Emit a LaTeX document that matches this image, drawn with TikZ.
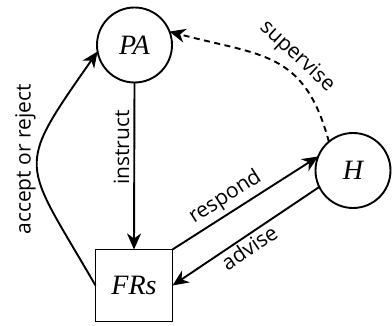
\documentclass[tikz,border=0pt]{standalone}
\usepackage{fontspec}
\setmainfont{Liberation Serif}
\setsansfont{Open Sans}
\usetikzlibrary{arrows.meta}
\tikzset{
  agent diagram/.style={
    draw=black, line width=1.9pt, x=1pt, y=1pt,
    >={Stealth[length=16pt,width=14pt,inset=5pt]},
    every node/.style={inner sep=0pt, outer sep=0pt}
  },
  agent circle/.style={draw, circle, minimum size=75pt,
    font=\fontsize{28}{32}\selectfont\itshape},
  agent box/.style={draw, rectangle, minimum width=77pt, minimum height=72pt,
    font=\fontsize{28}{32}\selectfont\itshape},
  flow label/.style={font=\sffamily\fontsize{21}{25}\selectfont, inner sep=2pt},
  flow dashed/.style={dash pattern=on 6pt off 4.5pt}
}
\begin{document}
\begin{tikzpicture}[agent diagram]
    \useasboundingbox (0,0) rectangle (392,326);
    \node[agent circle] (PA) at (134.5,281) {PA};
    \node[agent circle] (H) at (353,155.5) {H};
    \node[agent box] (FRs) at (134,40.5) {FRs};
    % PA -> FRs
    \draw[->] (PA.south) -- node[flow label,pos=0.39,rotate=90,anchor=south,inner sep=5pt] {instruct} (FRs.north);
    % FRs <-> H
    \draw[->] (FRs.north east) -- node[flow label,pos=0.42,sloped,above=3pt] {respond} (H.158);
    \draw[<-] (FRs.east) -- node[flow label,pos=0.48,sloped,below=1pt] {advise} (H.206);
    % back to PA
    \draw[->] (FRs.west) to[out=120,in=235,looseness=1.6]
      node[flow label,pos=0.54,rotate=90,anchor=south] {accept or reject} (PA.190);
    \draw[->,flow dashed] (H.130) to[out=105,in=-15,looseness=1.25]
      node[flow label,pos=0.42,rotate=-43,anchor=south,inner sep=6pt] {supervise} (PA.21);
  \end{tikzpicture}
\end{document}
